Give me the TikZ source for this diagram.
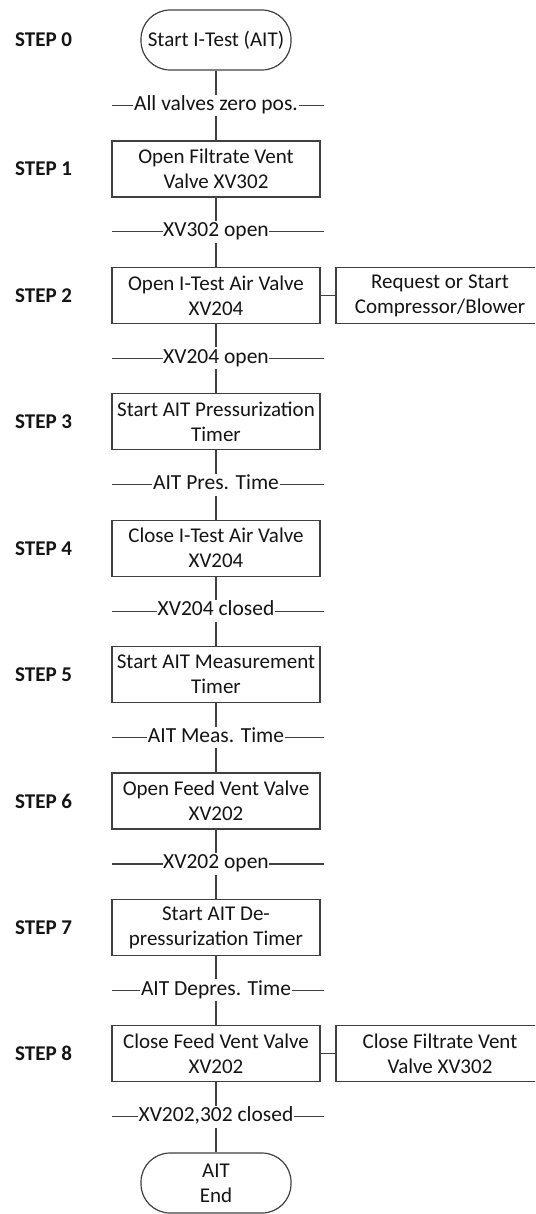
\documentclass[tikz,border=0pt]{standalone}
\usepackage{fontspec}
\setmainfont{Carlito}
\begin{document}
\begin{tikzpicture}[x=1pt,y=-1pt,
  font=\fontsize{21}{25}\selectfont,
  every node/.style={text=black!92},
  stepbox/.style={draw=black!75, line width=1.2pt, minimum width=208pt, minimum height=56pt, align=center, inner sep=0pt},
  term/.style={draw=black!75, line width=1.2pt, minimum width=150pt, minimum height=60pt, rounded corners=29pt, align=center, inner sep=0pt},
  cond/.style={fill=white, font=\fontsize{21.5}{25}\selectfont, inner xsep=0.5pt, inner ysep=2pt, text height=13.5pt, text depth=4pt},
  steplabel/.style={anchor=west, font=\fontsize{21}{25}\selectfont\bfseries, inner sep=0pt},
  link/.style={draw=black!75, line width=1.2pt}]

\useasboundingbox (0,0) rectangle (535,1214);
\clip (0,0) rectangle (535,1214);

% terminals
\node[term] (s0) at (216,40) {Start I-Test (AIT)};
\node[term] (s9) at (216,1183) {AIT\\End};

% step boxes
\node[stepbox] (b1) at (216,169.0) {Open Filtrate Vent\\Valve XV302};
\node[stepbox] (b2) at (216,295.4) {Open I-Test Air Valve\\XV204};
\node[stepbox] (b3) at (216,421.8) {Start AIT Pressurization\\Timer};
\node[stepbox] (b4) at (216,548.2) {Close I-Test Air Valve\\XV204};
\node[stepbox] (b5) at (216,674.6) {Start AIT Measurement\\Timer};
\node[stepbox] (b6) at (216,801.0) {Open Feed Vent Valve\\XV202};
\node[stepbox] (b7) at (216,927.4) {Start AIT De-\\pressurization Timer};
\node[stepbox] (b8) at (216,1053.8) {Close Feed Vent Valve\\XV202};

% side actions
\node[stepbox] (r2) at (440,295.4) {Request or Start\\Compressor/Blower};
\node[stepbox] (r8) at (440,1053.8) {Close Filtrate Vent\\Valve XV302};

% step labels
\node[steplabel] (l0) at (15,40) {STEP 0};
\node[steplabel] (l1) at (15,169.0) {STEP 1};
\node[steplabel] (l2) at (15,295.4) {STEP 2};
\node[steplabel] (l3) at (15,421.8) {STEP 3};
\node[steplabel] (l4) at (15,548.2) {STEP 4};
\node[steplabel] (l5) at (15,674.6) {STEP 5};
\node[steplabel] (l6) at (15,801.0) {STEP 6};
\node[steplabel] (l7) at (15,927.4) {STEP 7};
\node[steplabel] (l8) at (15,1053.8) {STEP 8};

% transition conditions
\node[cond] (t0) at (216,105.5) {All valves zero pos.};
\node[cond] (t1) at (216,231.9) {XV302 open};
\node[cond] (t2) at (216,358.3) {XV204 open};
\node[cond] (t3) at (216,484.7) {AIT Pres. Time};
\node[cond] (t4) at (216,611.1) {XV204 closed};
\node[cond] (t5) at (216,737.5) {AIT Meas. Time};
\node[cond] (t6) at (216,863.9) {XV202 open};
\node[cond] (t7) at (216,990.3) {AIT Depres. Time};
\node[cond] (t8) at (216,1116.7) {XV202,302 closed};

% transition bars
\foreach \k/\y in {0/105.5,1/231.9,2/358.3,3/484.7,4/611.1,5/737.5,6/863.9,7/990.3,8/1116.7}{
  \coordinate (ta\k) at (112,\y);
  \coordinate (tb\k) at (324,\y);
  \draw[link] (ta\k) -- (t\k);
  \draw[link] (t\k) -- (tb\k);
}

% main flow
\draw[link] (s0) -- (t0);
\draw[link] (t0) -- (b1);
\draw[link] (b1) -- (t1);
\draw[link] (t1) -- (b2);
\draw[link] (b2) -- (t2);
\draw[link] (t2) -- (b3);
\draw[link] (b3) -- (t3);
\draw[link] (t3) -- (b4);
\draw[link] (b4) -- (t4);
\draw[link] (t4) -- (b5);
\draw[link] (b5) -- (t5);
\draw[link] (t5) -- (b6);
\draw[link] (b6) -- (t6);
\draw[link] (t6) -- (b7);
\draw[link] (b7) -- (t7);
\draw[link] (t7) -- (b8);
\draw[link] (b8) -- (t8);
\draw[link] (t8) -- (s9);

% side links
\draw[link] (b2) -- (r2);
\draw[link] (b8) -- (r8);
\end{tikzpicture}
\end{document}
